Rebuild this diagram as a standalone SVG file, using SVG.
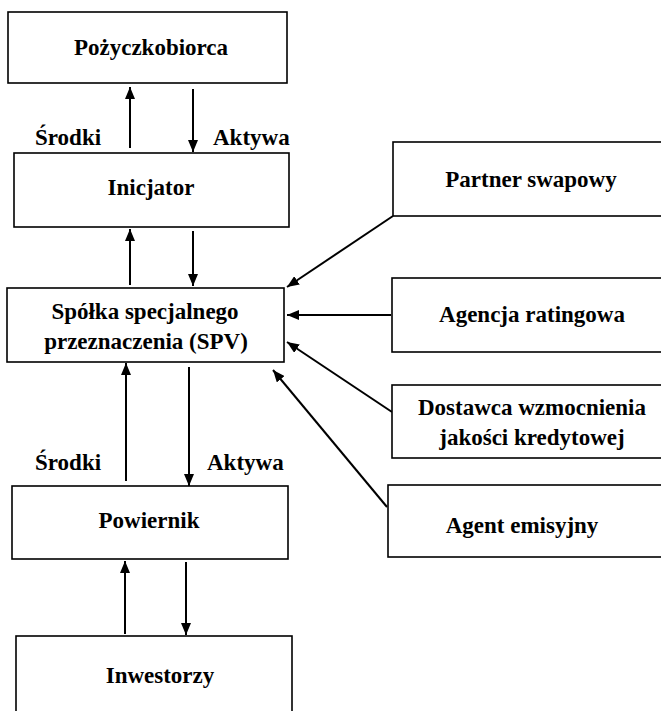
<svg xmlns="http://www.w3.org/2000/svg" width="661" height="711" viewBox="0 0 661 711">
<defs>
<marker id="ah" viewBox="0 0 12 10" refX="12" refY="5" markerWidth="12" markerHeight="10" markerUnits="userSpaceOnUse" orient="auto">
<path d="M0,0 L12,5 L0,10 z" fill="#000"/>
</marker>
<style>
.box{fill:#fff;stroke:#000;stroke-width:1.6}
text{font-family:'Liberation Serif','DejaVu Serif Condensed','DejaVu Serif',serif;font-stretch:condensed;font-weight:bold;font-size:23px;fill:#000}
.m{text-anchor:middle}
.c{stroke:#000;stroke-width:2;fill:none;marker-end:url(#ah)}
</style>
</defs>
<rect width="661" height="711" fill="#fff"/>
<g id="connectors">
<line class="c" x1="130" y1="148" x2="130" y2="87"/>
<line class="c" x1="193" y1="89" x2="193" y2="152"/>
<line class="c" x1="130" y1="285" x2="130" y2="229"/>
<line class="c" x1="193" y1="231" x2="193" y2="286"/>
<line class="c" x1="126" y1="481" x2="126" y2="363"/>
<line class="c" x1="189" y1="367" x2="189" y2="486"/>
<line class="c" x1="125" y1="634" x2="125" y2="561"/>
<line class="c" x1="186" y1="562" x2="186" y2="635"/>
<line class="c" x1="393" y1="216" x2="287" y2="287"/>
<line class="c" x1="391" y1="315" x2="287" y2="315"/>
<line class="c" x1="392" y1="412" x2="287" y2="342"/>
<line class="c" x1="387" y1="507" x2="273" y2="370"/>
<text x="35" y="145">Środki</text>
<text x="213" y="145">Aktywa</text>
<text x="35" y="470">Środki</text>
<text x="207" y="470">Aktywa</text>
</g>
<g id="pozyczkobiorca">
<rect class="box" x="8" y="12" width="279" height="71"/>
<text class="m" x="151" y="55">Pożyczkobiorca</text>
</g>
<g id="inicjator">
<rect class="box" x="14" y="153" width="275" height="74"/>
<text class="m" x="151" y="195">Inicjator</text>
</g>
<g id="spv">
<rect class="box" x="7" y="288" width="277" height="74"/>
<text class="m" x="145" y="319">Spółka specjalnego</text>
<text class="m" x="146" y="349">przeznaczenia (SPV)</text>
</g>
<g id="powiernik">
<rect class="box" x="12" y="486" width="276" height="73"/>
<text class="m" x="149" y="528">Powiernik</text>
</g>
<g id="inwestorzy">
<rect class="box" x="16" y="636" width="276" height="90"/>
<text class="m" x="160" y="683">Inwestorzy</text>
</g>
<g id="partner">
<rect class="box" x="393" y="142" width="280" height="74"/>
<text class="m" x="531" y="187">Partner swapowy</text>
</g>
<g id="agencja">
<rect class="box" x="392" y="278" width="280" height="74"/>
<text class="m" x="532" y="322">Agencja ratingowa</text>
</g>
<g id="dostawca">
<rect class="box" x="392" y="385" width="280" height="73"/>
<text class="m" x="532" y="415">Dostawca wzmocnienia</text>
<text class="m" x="532" y="445">jakości kredytowej</text>
</g>
<g id="agent">
<rect class="box" x="388" y="485" width="285" height="72"/>
<text class="m" x="522" y="533">Agent emisyjny</text>
</g>
</svg>
